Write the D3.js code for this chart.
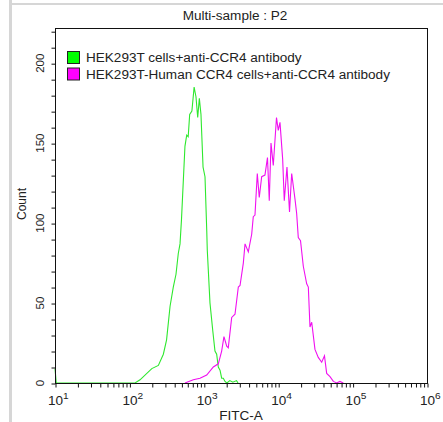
<!DOCTYPE html>
<head>
  <script src="https://d3js.org/d3.v7.min.js"></script>
  <style>
    body { margin: 0; background: #fff; }
    text { font-family: "Liberation Sans", Arial, sans-serif; fill: #222; }
  </style>
</head>
<body>

<svg width="443" height="422"></svg>

<script>
  // FITC-A values and counts
  const greenX = [10, 10.4, 119, 139, 200, 245, 286, 316, 352, 389, 423, 454, 479, 501, 558, 589, 617, 646, 692, 741, 785, 828, 871, 916, 977, 1038, 1096, 1114, 1211, 1318, 1413, 1489, 1567, 1652, 1738, 1828, 1928, 2042, 2239, 2455, 2754, 2884];
  const greenY = [9, 0, 0, 2, 9, 11, 18, 27, 48, 60, 68, 81, 87, 102, 148, 155, 154, 168, 170, 185, 179, 166, 178, 168, 135, 129, 95, 83, 50, 33, 20, 18, 10, 8, 3, 3, 1, 0, 1.5, 0.5, 1.5, 0];

  const magentaX = [558, 723, 889, 1094, 1343, 1567, 1738, 1866, 2032, 2133, 2371, 2626, 2911, 3069, 3398, 3582, 3966, 4403, 4624, 4875, 5236, 5563, 5998, 6637, 7176, 7586, 8001, 8590, 9487, 10023, 10568, 11482, 12070, 13123, 14192, 15181, 16818, 17706, 18621, 19952, 21747, 24151, 25410, 26740, 28212, 31200, 34560, 38440, 41880, 44840, 49690, 55080, 61100, 67600, 74980];
  const magentaY = [0, 2, 3, 5, 10, 12, 20, 29, 23, 22, 41, 43, 60, 61, 75, 87, 82, 93, 104, 105, 131, 116, 129, 130, 141, 114, 150, 136, 166, 158, 163, 140, 114, 135, 107, 131, 115, 106, 91, 89, 73, 62, 60, 35, 38, 21, 16, 13, 17, 6, 4, 1, 0, 1, 0];

  const legendLabels = ["HEK293T cells+anti-CCR4 antibody", "HEK293T-Human CCR4 cells+anti-CCR4 antibody"];
  const seriesColors = ["#00ff00", "#ff00ff"];
  const lineColors = ["#2ee82e", "#f010f0"];
  const decades = [1, 2, 3, 4, 5, 6];
  const yTicks = [0, 50, 100, 150, 200];

  const svg = d3.select("svg");
  const plotL = 55, plotR = 427, plotT = 28, plotB = 383;
  const sx = 1.13; // the source picture is a little wider than tall

  const xScale = d3.scaleLog().domain([10, 1e6]).range([plotL, plotR]);
  const yScale = d3.scaleLinear().domain([0, 222]).range([plotB, plotT]);

  // grey frame
  svg.append("rect").attr("x", 9).attr("y", 0).attr("width", 3).attr("height", 422).attr("fill", "#d6d6d6");
  svg.append("rect").attr("x", 12).attr("y", 3).attr("width", 431).attr("height", 2).attr("fill", "#d6d6d6");

  svg.append("text")
    .attr("transform", `translate(235,20) scale(${sx},1)`)
    .attr("text-anchor", "middle")
    .attr("font-size", 12)
    .text("Multi-sample : P2");

  // lines
  const line = d3.line()
    .x(d => xScale(d[0]))
    .y(d => yScale(d[1]));

  const series = [d3.zip(greenX, greenY), d3.zip(magentaX, magentaY)];
  svg.selectAll(".curve")
    .data(series)
    .enter().append("path")
    .attr("class", "curve")
    .attr("d", line)
    .attr("fill", "none")
    .attr("stroke", (d, i) => lineColors[i])
    .attr("stroke-width", 1.1);

  // box
  svg.append("rect")
    .attr("x", plotL + 0.5).attr("y", plotT + 0.5)
    .attr("width", plotR - plotL).attr("height", plotB - plotT)
    .attr("fill", "none").attr("stroke", "#111").attr("stroke-width", 1);

  // x axis: ticks at every 1..9 x decade
  const xTickVals = [];
  decades.forEach(p => {
    for (let m = 1; m <= 9; m++) {
      if (p === 6 && m > 1) break;
      xTickVals.push(m * Math.pow(10, p));
    }
  });
  const xAxis = svg.append("g")
    .attr("transform", `translate(0.5,${plotB + 0.5})`)
    .call(d3.axisBottom(xScale).tickValues(xTickVals).tickSize(4).tickFormat(""));
  xAxis.select(".domain").remove();
  xAxis.selectAll("line").attr("stroke", "#111");

  const xLabels = svg.selectAll(".xlab")
    .data(decades)
    .enter().append("text")
    .attr("class", "xlab")
    .attr("transform", d => `translate(${xScale(Math.pow(10, d)) - 7},405) scale(${sx},1)`)
    .attr("font-size", 12);
  xLabels.append("tspan").text("10");
  xLabels.append("tspan").attr("dy", -6).attr("font-size", 9).text(d => d);

  svg.append("text")
    .attr("transform", `translate(241,420) scale(${sx},1)`)
    .attr("text-anchor", "middle")
    .attr("font-size", 12)
    .text("FITC-A");

  // y axis
  const yAxis = svg.append("g")
    .attr("transform", `translate(${plotL + 0.5},0.5)`)
    .call(d3.axisLeft(yScale).tickValues(d3.range(0, 221, 10)).tickSize(4).tickFormat(""));
  yAxis.select(".domain").remove();
  yAxis.selectAll("line").attr("stroke", "#111");

  svg.selectAll(".ylab")
    .data(yTicks)
    .enter().append("text")
    .attr("class", "ylab")
    .attr("transform", d => `translate(44,${yScale(d)}) rotate(-90)`)
    .attr("text-anchor", "middle")
    .attr("font-size", 11.5)
    .text(d => d);

  svg.append("text")
    .attr("transform", "translate(26,204) rotate(-90)")
    .attr("text-anchor", "middle")
    .attr("font-size", 12)
    .text("Count");

  // legend
  const legend = svg.selectAll(".legend")
    .data(legendLabels)
    .enter().append("g")
    .attr("class", "legend")
    .attr("transform", (d, i) => `translate(67,${51 + i * 16.5})`);

  legend.append("rect")
    .attr("x", 0.5).attr("y", 0.5)
    .attr("width", 12).attr("height", 12)
    .attr("fill", (d, i) => seriesColors[i])
    .attr("stroke", "#222");

  legend.append("text")
    .attr("transform", `translate(19,11) scale(${sx},1)`)
    .attr("font-size", 12)
    .text(d => d);
</script>

</body>
</html>
